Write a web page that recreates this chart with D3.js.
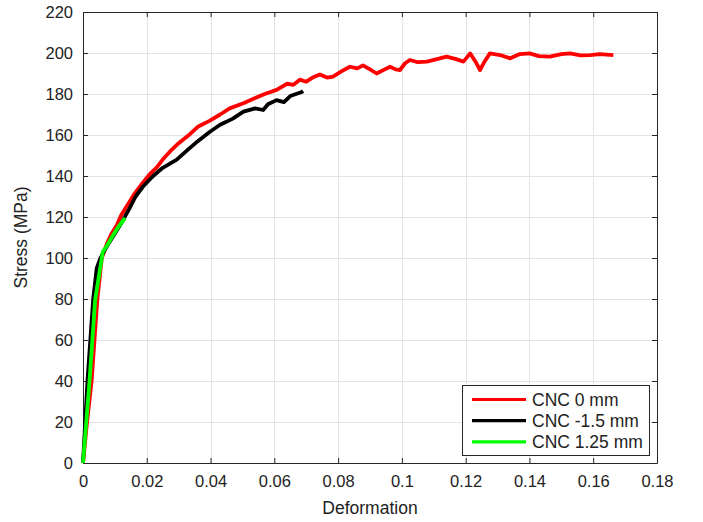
<!DOCTYPE html>
<html>
<head>
<meta charset="utf-8">
<script src="https://cdn.jsdelivr.net/npm/d3@7"></script>
<style>
  body { margin: 0; background: #fff; }
  svg { display: block; font-family: "Liberation Sans", Arial, sans-serif; }
</style>
</head>
<body>
<div id="chart"></div>
<script>
// Data: [deformation, stress in MPa]
const seriesNames = ["CNC 0 mm", "CNC -1.5 mm", "CNC 1.25 mm"];
const seriesColors = ["#ff0000", "#000000", "#00ff00"];

const cnc0 = [
  [0, 0], [0.0012, 19], [0.0027, 40], [0.0045, 80], [0.0059, 100], [0.0075, 107],
  [0.009, 112], [0.0106, 116], [0.012, 121], [0.014, 126], [0.016, 131], [0.0189, 137],
  [0.021, 141], [0.023, 144], [0.025, 148], [0.0273, 152], [0.030, 156], [0.0336, 160.5],
  [0.036, 164], [0.0398, 167], [0.043, 170], [0.046, 173], [0.0503, 175.5], [0.054, 178],
  [0.057, 180], [0.0607, 182], [0.064, 185], [0.066, 184.5], [0.068, 187], [0.070, 186],
  [0.072, 188], [0.0743, 189.5], [0.0765, 188], [0.0784, 188.5], [0.081, 191], [0.0837, 193.3],
  [0.086, 192.5], [0.0878, 194], [0.090, 192], [0.0921, 190], [0.094, 191.5], [0.0963, 193.3],
  [0.098, 192], [0.0994, 191.7], [0.101, 195], [0.1025, 196.6], [0.105, 195.5], [0.1078, 195.8],
  [0.111, 197], [0.114, 198.2], [0.117, 197], [0.1193, 195.8], [0.1214, 199.8], [0.123, 196],
  [0.1245, 191.7], [0.126, 196], [0.1276, 199.8], [0.1308, 199], [0.134, 197.4], [0.137, 199.5],
  [0.140, 199.8], [0.143, 198.5], [0.1464, 198.2], [0.150, 199.5], [0.1527, 199.8], [0.156, 198.8],
  [0.159, 199], [0.162, 199.5], [0.1663, 199]
];

const cncMinus15 = [
  [0, 0], [0.0014, 40], [0.0032, 80], [0.0043, 95], [0.0055, 100], [0.0065, 103],
  [0.008, 107], [0.010, 112], [0.012, 117], [0.0145, 124], [0.0165, 130], [0.0189, 135],
  [0.022, 140], [0.025, 144], [0.0294, 148], [0.033, 153], [0.036, 157], [0.0398, 161.6],
  [0.043, 165], [0.047, 168], [0.0503, 171.4], [0.054, 173], [0.0565, 172.2], [0.058, 175],
  [0.0607, 177], [0.063, 176], [0.065, 179], [0.0686, 181], [0.069, 181.5]
];

const cnc125 = [
  [0, 0], [0.002, 39], [0.0038, 79.5], [0.0062, 103], [0.0075, 106], [0.009, 110],
  [0.011, 115], [0.0132, 119.5]
];

const xTicks = [0, 0.02, 0.04, 0.06, 0.08, 0.1, 0.12, 0.14, 0.16, 0.18];
const yTicks = [0, 20, 40, 60, 80, 100, 120, 140, 160, 180, 200, 220];

const allSeries = [cnc0, cncMinus15, cnc125];

const width = 703, height = 522;
const margin = {top: 12, left: 83, right: 46, bottom: 59};

const svg = d3.select("#chart").append("svg")
  .attr("width", width)
  .attr("height", height);

const x = d3.scaleLinear().domain([0, 0.18]).range([margin.left, width - margin.right]);
const y = d3.scaleLinear().domain([0, 220]).range([height - margin.bottom, margin.top]);

// grid
const grid = svg.append("g").attr("stroke", "#e3e3e3").attr("stroke-width", 1);
grid.selectAll(".gx").data(xTicks.slice(1, -1)).enter().append("line")
  .attr("x1", d => Math.round(x(d)) + 0.5).attr("x2", d => Math.round(x(d)) + 0.5)
  .attr("y1", y(0)).attr("y2", y(220));
grid.selectAll(".gy").data(yTicks.slice(1, -1)).enter().append("line")
  .attr("y1", d => Math.round(y(d)) + 0.5).attr("y2", d => Math.round(y(d)) + 0.5)
  .attr("x1", x(0)).attr("x2", x(0.18));

// axes with inward ticks (box style)
const fmtX = d => d === 0 ? "0" : String(+d.toFixed(2));
const axisColor = "#262626";

function styleAxis(g) {
  g.select(".domain").attr("stroke", axisColor);
  g.selectAll(".tick line").attr("stroke", axisColor);
  g.selectAll(".tick text").attr("fill", "#222").style("font-size", "16.5px");
}

svg.append("g")
  .attr("transform", `translate(0,${y(0)})`)
  .call(d3.axisBottom(x).tickValues(xTicks).tickFormat(fmtX).tickSizeInner(-5).tickSizeOuter(0).tickPadding(12))
  .call(styleAxis);

svg.append("g")
  .attr("transform", `translate(0,${y(220)})`)
  .call(d3.axisTop(x).tickValues(xTicks).tickFormat("").tickSizeInner(-5).tickSizeOuter(0))
  .call(styleAxis);

svg.append("g")
  .attr("transform", `translate(${x(0)},0)`)
  .call(d3.axisLeft(y).tickValues(yTicks).tickSizeInner(-5).tickSizeOuter(0).tickPadding(10))
  .call(styleAxis);

svg.append("g")
  .attr("transform", `translate(${x(0.18)},0)`)
  .call(d3.axisRight(y).tickValues(yTicks).tickFormat("").tickSizeInner(-5).tickSizeOuter(0))
  .call(styleAxis);

svg.selectAll(".domain").attr("stroke-width", 1);

// curves
const line = d3.line().x(d => x(d[0])).y(d => y(d[1]));
allSeries.forEach((s, i) => {
  svg.append("path")
    .datum(s)
    .attr("fill", "none")
    .attr("stroke", seriesColors[i])
    .attr("stroke-width", 3.8)
    .attr("stroke-linejoin", "round")
    .attr("d", line);
});

// axis labels
svg.append("text")
  .attr("x", (x(0) + x(0.18)) / 2)
  .attr("y", 514)
  .attr("text-anchor", "middle")
  .style("font-size", "17.5px")
  .attr("fill", "#222")
  .text("Deformation");

svg.append("text")
  .attr("transform", `translate(27,${(y(0) + y(220)) / 2}) rotate(-90)`)
  .attr("text-anchor", "middle")
  .style("font-size", "17.5px")
  .attr("fill", "#222")
  .text("Stress (MPa)");

// legend
const legend = svg.append("g");
legend.append("rect")
  .attr("x", 462.5).attr("y", 385.5)
  .attr("width", 187).attr("height", 70)
  .attr("fill", "#fff").attr("stroke", axisColor);

seriesNames.forEach((name, i) => {
  const ly = 399.5 + i * 21.2;
  legend.append("line")
    .attr("x1", 472).attr("x2", 526)
    .attr("y1", ly).attr("y2", ly)
    .attr("stroke", seriesColors[i]).attr("stroke-width", 3.2);
  legend.append("text")
    .attr("x", 532).attr("y", ly)
    .attr("dy", "0.35em")
    .style("font-size", "17.5px")
    .attr("fill", "#222")
    .text(name);
});
</script>
</body>
</html>
